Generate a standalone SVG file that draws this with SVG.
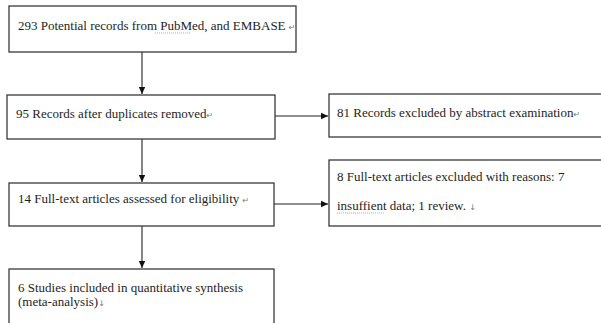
<svg xmlns="http://www.w3.org/2000/svg" width="601" height="323" viewBox="0 0 601 323">
<style>
.box{fill:#fff;stroke:#3a3a3a;stroke-width:1.3}
.t{font-family:'Liberation Serif','DejaVu Serif',serif;font-size:13px;fill:#1e1e1e}
.m{font-family:'DejaVu Sans',sans-serif;font-size:8px;fill:#777}
.edge{stroke:#222;stroke-width:1.1;fill:none}
.wavy{stroke:#999;stroke-width:0.8;fill:none;stroke-dasharray:1 1}
</style>
<defs>
<marker id="ah" markerWidth="8" markerHeight="8" refX="7" refY="4" orient="auto" markerUnits="userSpaceOnUse">
<path d="M0,0.8 L7,4 L0,7.2 Z" fill="#111"/>
</marker>
</defs>
<rect width="601" height="323" fill="#fff"/>
<g id="connectors">
<line class="edge" x1="142" y1="52" x2="142" y2="94" marker-end="url(#ah)"/>
<line class="edge" x1="142" y1="139" x2="142" y2="182" marker-end="url(#ah)"/>
<line class="edge" x1="142" y1="226" x2="142" y2="268" marker-end="url(#ah)"/>
<line class="edge" x1="275" y1="116" x2="328" y2="116" marker-end="url(#ah)"/>
<line class="edge" x1="274" y1="204" x2="328" y2="204" marker-end="url(#ah)"/>
</g>
<g id="n1">
<rect class="box" x="9" y="6" width="287" height="46"/>
<text class="t" x="18" y="30">293 Potential records from PubMed, and EMBASE <tspan class="m">↵</tspan></text>
<path class="wavy" d="M155,33 H190"/>
</g>
<g id="n2">
<rect class="box" x="7" y="95" width="268" height="44"/>
<text class="t" x="16" y="118">95 Records after duplicates removed<tspan class="m">↵</tspan></text>
</g>
<g id="n3">
<rect class="box" x="9" y="183" width="265" height="43"/>
<text class="t" x="18" y="203">14 Full-text articles assessed for eligibility  <tspan class="m">↵</tspan></text>
</g>
<g id="n4">
<rect class="box" x="9" y="269" width="265" height="60"/>
<text class="t" x="18" y="292">6 Studies included in quantitative synthesis</text>
<text class="t" x="18" y="306">(meta-analysis)<tspan class="m">↓</tspan></text>
</g>
<g id="n5">
<rect class="box" x="329" y="94" width="280" height="43"/>
<text class="t" x="337" y="117">81 Records excluded by abstract examination<tspan class="m">↵</tspan></text>
</g>
<g id="n6">
<rect class="box" x="329" y="160" width="280" height="66"/>
<text class="t" x="337" y="181">8 Full-text articles excluded with reasons: 7</text>
<text class="t" x="337" y="210">insuffient data; 1 review. <tspan class="m">↓</tspan></text>
<path class="wavy" d="M337,213 H385"/>
</g>
</svg>
